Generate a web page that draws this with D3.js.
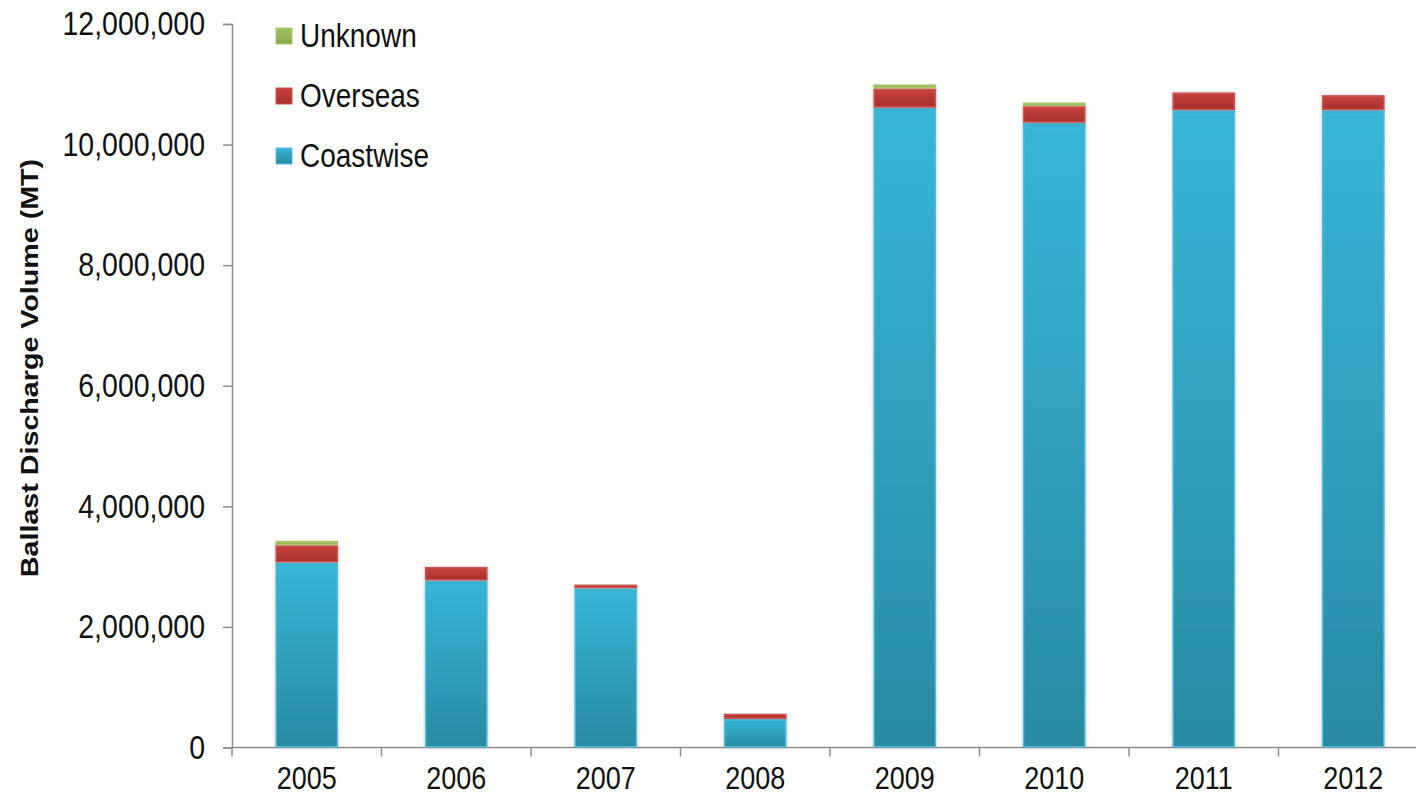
<!DOCTYPE html>
<html>
<head>
<meta charset="utf-8">
<script src="https://cdn.jsdelivr.net/npm/d3@7"></script>
<style>
  html, body { margin: 0; padding: 0; background: #fff; }
  svg text { font-family: "Liberation Sans", Arial, sans-serif; fill: #111; }
</style>
</head>
<body>
<div id="chart"></div>
<script>
// data
const years = ['2005', '2006', '2007', '2008', '2009', '2010', '2011', '2012'];
const coastwise = [3067000, 2768000, 2640000, 472000, 10610000, 10361000, 10570000, 10570000];
const overseas = [288000, 228000, 62000, 88000, 321000, 276000, 295000, 250000];
const unknown = [73000, 0, 0, 0, 66000, 61000, 0, 0];
const seriesNames = ['Coastwise', 'Overseas', 'Unknown'];
const yTicks = [0, 2000000, 4000000, 6000000, 8000000, 10000000, 12000000];

const W = 1416, H = 799;
const plotLeft = 232, plotRight = 1428, plotTop = 24, plotBottom = 747.5;
const stretch = 'scale(1,1.17)'; // the source text looks a bit tall

const svg = d3.select('#chart').append('svg')
  .attr('width', W)
  .attr('height', H);

const defs = svg.append('defs');
const grads = [
  { id: 'g-coast', top: '#37b5d8', bot: '#2a8aa2', stroke: '#52bcdb' },
  { id: 'g-over', top: '#c8423e', bot: '#a4302d', stroke: '#cf5552' },
  { id: 'g-unk', top: '#a3c465', bot: '#86a94a', stroke: '#a9c76c' },
];
grads.forEach(g => {
  const lg = defs.append('linearGradient').attr('id', g.id)
    .attr('x1', 0).attr('y1', 0).attr('x2', 0).attr('y2', 1);
  lg.append('stop').attr('offset', '0%').attr('stop-color', g.top);
  lg.append('stop').attr('offset', '100%').attr('stop-color', g.bot);
});
const shadow = defs.append('filter').attr('id', 'shadow')
  .attr('x', '-20%').attr('y', '-20%').attr('width', '140%').attr('height', '140%');
shadow.append('feDropShadow').attr('dx', 0).attr('dy', 0).attr('stdDeviation', 2)
  .attr('flood-color', '#000').attr('flood-opacity', 0.18);

const x = d3.scaleBand()
  .domain(years)
  .range([plotLeft, plotRight])
  .paddingInner(0.58)
  .paddingOuter(0.29);

const y = d3.scaleLinear()
  .domain([0, 12000000])
  .range([plotBottom, plotTop]);

const table = years.map((yr, i) => ({
  year: yr, Coastwise: coastwise[i], Overseas: overseas[i], Unknown: unknown[i]
}));
const stacked = d3.stack().keys(seriesNames)(table);

// y axis
const yAxis = svg.append('g')
  .attr('transform', `translate(${plotLeft},0)`)
  .call(d3.axisLeft(y).tickValues(yTicks).tickSize(9).tickPadding(18)
    .tickFormat(d3.format(',')));
yAxis.select('.domain').attr('stroke', '#8c8c8c').attr('stroke-width', 1.5);
yAxis.selectAll('.tick line').attr('stroke', '#8c8c8c').attr('stroke-width', 1.5);
yAxis.selectAll('.tick text').attr('font-size', 28.5).attr('fill', '#111')
  .attr('font-family', '"Liberation Sans", Arial, sans-serif')
  .attr('transform', stretch);

// x axis: ticks between categories
const xg = svg.append('g');
xg.append('line')
  .attr('x1', plotLeft).attr('x2', plotRight)
  .attr('y1', plotBottom).attr('y2', plotBottom)
  .attr('stroke', '#8c8c8c').attr('stroke-width', 1.5);
const bounds = years.map(yr => x(yr) - x.step() * x.paddingInner() / 2);
bounds.push(plotRight);
xg.selectAll('line.tk').data(bounds).join('line')
  .attr('class', 'tk')
  .attr('x1', d => d).attr('x2', d => d)
  .attr('y1', plotBottom).attr('y2', plotBottom + 9)
  .attr('stroke', '#8c8c8c').attr('stroke-width', 1.5);
xg.selectAll('text').data(years).join('text')
  .attr('transform', d => `translate(${x(d) + x.bandwidth() / 2},789) ${stretch}`)
  .attr('text-anchor', 'middle')
  .attr('font-size', 27)
  .text(d => d);

// bars
const fills = { Coastwise: grads[0], Overseas: grads[1], Unknown: grads[2] };
stacked.forEach(layer => {
  const g = fills[layer.key];
  svg.append('g').selectAll('rect').data(layer.filter(d => d[1] - d[0] > 0)).join('rect')
    .attr('x', d => x(d.data.year) + 0.75)
    .attr('width', x.bandwidth() - 1.5)
    .attr('y', d => y(d[1]) + 0.75)
    .attr('height', d => Math.max(0, y(d[0]) - y(d[1]) - 1.5))
    .attr('fill', `url(#${g.id})`)
    .attr('stroke', g.stroke)
    .attr('stroke-width', 1.5)
    .attr('filter', 'url(#shadow)');
});

// axis title
svg.append('text')
  .attr('transform', `translate(38,368) ${stretch} rotate(-90)`)
  .attr('text-anchor', 'middle')
  .attr('font-size', 24.5)
  .attr('font-weight', 'bold')
  .text('Ballast Discharge Volume (MT)');

// legend
const legendItems = ['Unknown', 'Overseas', 'Coastwise'];
const lg = svg.append('g').selectAll('g').data(legendItems).join('g')
  .attr('transform', (d, i) => `translate(276,${36 + i * 60})`);
lg.append('rect')
  .attr('x', 0).attr('y', -8).attr('width', 16).attr('height', 16)
  .attr('fill', d => `url(#${fills[d].id})`)
  .attr('stroke', d => fills[d].stroke).attr('stroke-width', 1);
lg.append('text')
  .attr('transform', `translate(24,11) ${stretch}`)
  .attr('font-size', 28)
  .text(d => d);
</script>
</body>
</html>
